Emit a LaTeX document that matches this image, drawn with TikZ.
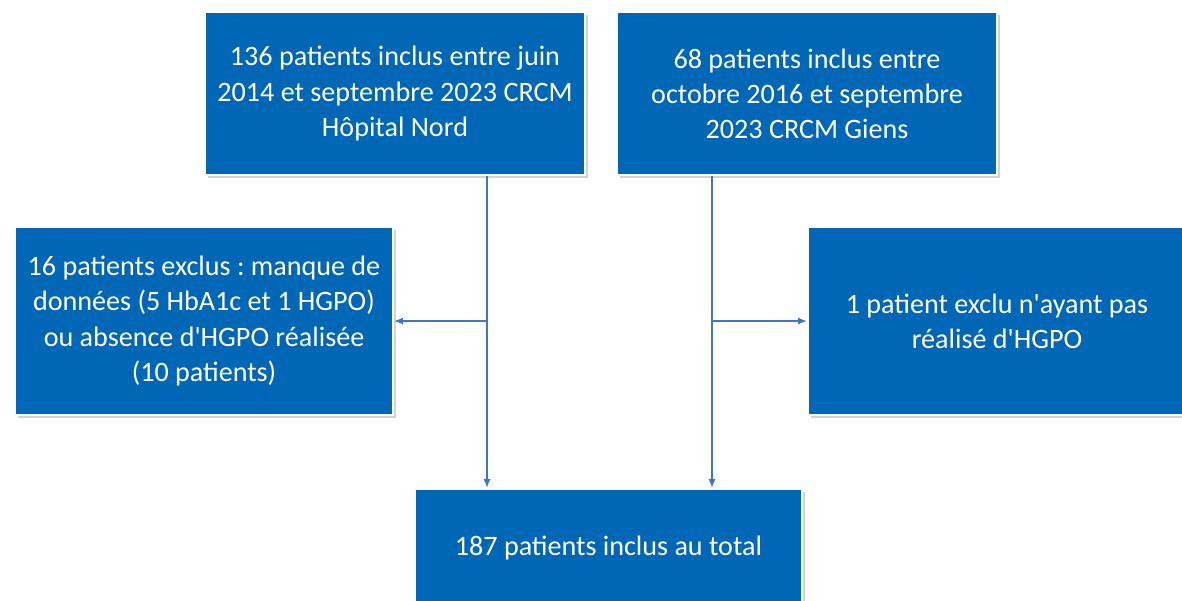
\documentclass[tikz,border=0pt]{standalone}
\usepackage{fontspec}
\setmainfont{Carlito}
\usetikzlibrary{arrows.meta,shadows}
\definecolor{boxblue}{RGB}{0,103,183}
\definecolor{linkblue}{RGB}{68,114,196}
\frenchspacing
\begin{document}
\begin{tikzpicture}[x=0.02cm,y=-0.02cm,
	box/.style={draw=white,line width=1.5pt,fill=boxblue,text=white,align=center,
		font=\fontsize{16}{20}\selectfont,inner sep=0pt,
		drop shadow={shadow xshift=1.5pt,shadow yshift=-1.5pt,opacity=0.35}},
	link/.style={draw=linkblue,line width=0.6pt,-{Latex[length=5pt,width=4pt]}}]
	\useasboundingbox[fill=white] (0,0) rectangle (1182,600);
	\clip (0,0) rectangle (1182,600);
	% inclusion per centre
	\node[box,minimum width=7.6cm,minimum height=3.26cm] (nord) at (395,93.5)
		{136 patients inclus entre juin\\2014 et septembre 2023 CRCM\\Hôpital Nord};
	\node[box,minimum width=7.6cm,minimum height=3.26cm] (giens) at (807,93.5)
		{68 patients inclus entre\\octobre 2016 et septembre\\2023 CRCM Giens};
	% exclusions
	\node[box,minimum width=7.56cm,minimum height=3.76cm] (exclnord) at (204,321)
		{16 patients exclus : manque de\\données (5 HbA1c et 1 HGPO)\\ou absence d\textquotesingle HGPO réalisée\\(10 patients)};
	\node[box,minimum width=7.56cm,minimum height=3.76cm] (exclgiens) at (997,321)
		{1 patient exclu n\textquotesingle ayant pas\\réalisé d\textquotesingle HGPO};
	% total
	\node[box,minimum width=7.74cm,minimum height=2.36cm] (total) at (608.5,548)
		{187 patients inclus au total};
	\coordinate (jnord) at (487,321);
	\coordinate (jgiens) at (712,321);
	\draw[link] (nord.south -| jnord) -- (total.north -| jnord);
	\draw[link] (jnord) -- (exclnord.east);
	\draw[link] (giens.south -| jgiens) -- (total.north -| jgiens);
	\draw[link] (jgiens) -- (exclgiens.west);
\end{tikzpicture}
\end{document}
